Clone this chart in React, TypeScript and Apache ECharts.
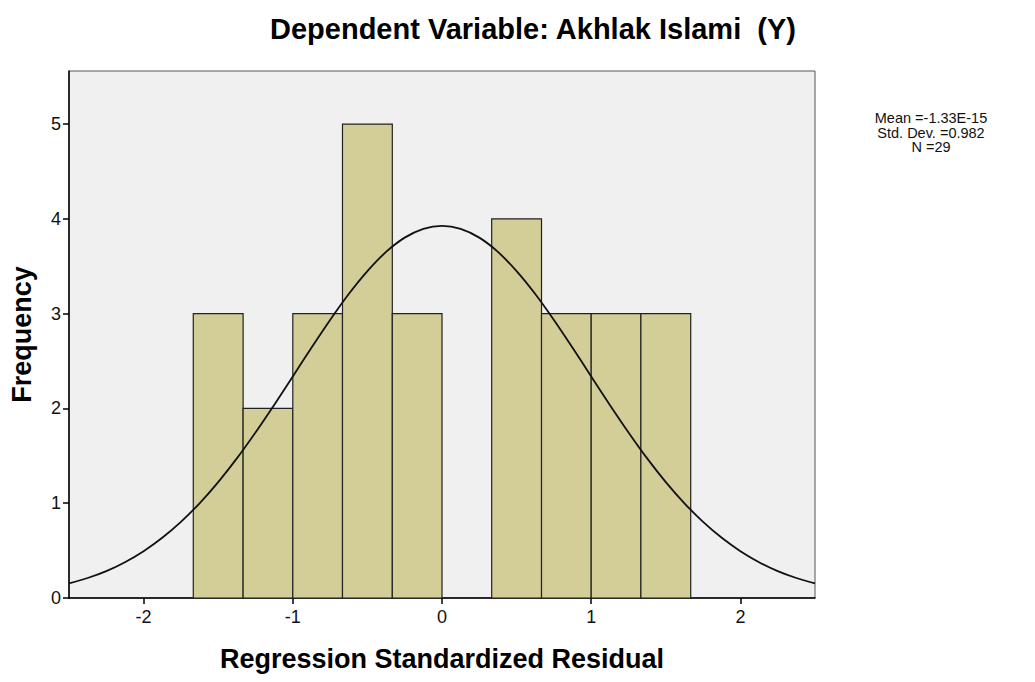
import React, { useEffect, useRef } from "react";
import * as echarts from "echarts";

// Histogram bins (bin edges) and frequencies
const binEdges = [-1.667, -1.333, -1.0, -0.667, -0.333, 0, 0.333, 0.667, 1.0, 1.333, 1.667];
const frequencies = [3, 2, 3, 5, 3, 0, 4, 3, 3, 3];

// Normal curve, points
const curveX = [
  -2.5, -2.375, -2.25, -2.125, -2.0, -1.875, -1.75, -1.625, -1.5, -1.375, -1.25, -1.125, -1.0,
  -0.875, -0.75, -0.625, -0.5, -0.375, -0.25, -0.125, 0, 0.125, 0.25, 0.375, 0.5, 0.625, 0.75,
  0.875, 1.0, 1.125, 1.25, 1.375, 1.5, 1.625, 1.75, 1.875, 2.0, 2.125, 2.25, 2.375, 2.5,
];
const curveY = [
  0.154, 0.211, 0.284, 0.378, 0.494, 0.635, 0.803, 0.999, 1.223, 1.473, 1.747, 2.037, 2.338,
  2.64, 2.933, 3.207, 3.449, 3.651, 3.802, 3.895, 3.927, 3.895, 3.802, 3.651, 3.449, 3.207, 2.933,
  2.64, 2.338, 2.037, 1.747, 1.473, 1.223, 0.999, 0.803, 0.635, 0.494, 0.378, 0.284, 0.211, 0.154,
];

const xTicks = [-2, -1, 0, 1, 2];
const yTicks = [0, 1, 2, 3, 4, 5];

const titleText = "Dependent Variable: Akhlak Islami  (Y)";
const xAxisTitle = "Regression Standardized Residual";
const yAxisTitle = "Frequency";
const statsLines = ["Mean =-1.33E-15", "Std. Dev. =0.982", "N =29"];

const FONT = "'Liberation Sans', Arial, Helvetica, sans-serif";

export default function App() {
  const ref = useRef<HTMLDivElement>(null);

  useEffect(() => {
    if (!ref.current) return;
    const chart = echarts.init(ref.current, undefined, { renderer: "svg" });

    const barData = frequencies.map((f, i) => [binEdges[i], binEdges[i + 1], f]);
    const curveData = curveX.map((x, i) => [x, curveY[i]]);

    const statsGraphics = statsLines.map((line, i) => ({
      type: "text",
      x: 931,
      y: 118 + i * 14.6,
      style: {
        text: line,
        font: `14.5px ${FONT}`,
        fill: "#111",
        align: "center",
        verticalAlign: "middle",
      },
    }));

    chart.setOption({
      animation: false,
      backgroundColor: "#ffffff",
      textStyle: { fontFamily: FONT },
      grid: {
        left: 69,
        top: 71,
        width: 746,
        height: 527,
        show: true,
        backgroundColor: "#f0f0f0",
        borderColor: "#555555",
        borderWidth: 1,
      },
      xAxis: {
        type: "value",
        min: -2.5,
        max: 2.5,
        splitNumber: 5,
        name: xAxisTitle,
        nameLocation: "middle",
        nameGap: 47,
        nameTextStyle: { fontSize: 27, fontWeight: "bold", color: "#000", fontFamily: FONT },
        axisLine: { show: true, onZero: false, lineStyle: { color: "#000", width: 1.5 } },
        axisTick: { show: true, inside: false, length: 6, customValues: xTicks, lineStyle: { color: "#000", width: 1.5 } },
        axisLabel: { show: true, customValues: xTicks, fontSize: 18, color: "#111", margin: 10, fontFamily: FONT },
        splitLine: { show: false },
      },
      yAxis: {
        type: "value",
        min: 0,
        max: 5.56,
        name: yAxisTitle,
        nameLocation: "middle",
        nameGap: 34,
        nameTextStyle: { fontSize: 27, fontWeight: "bold", color: "#000", fontFamily: FONT },
        axisLine: { show: true, onZero: false, lineStyle: { color: "#000", width: 1.5 } },
        axisTick: { show: true, inside: false, length: 6, customValues: yTicks, lineStyle: { color: "#000", width: 1.5 } },
        axisLabel: { show: true, customValues: yTicks, fontSize: 18, color: "#111", margin: 8, fontFamily: FONT },
        splitLine: { show: false },
      },
      graphic: [
        {
          type: "text",
          x: 533,
          y: 14,
          style: { text: titleText, font: `bold 29px ${FONT}`, fill: "#000", align: "center", verticalAlign: "top" },
        },
        ...statsGraphics,
      ],
      series: [
        {
          type: "custom",
          renderItem: (params: any, api: any) => {
            const x0 = api.value(0);
            const x1 = api.value(1);
            const f = api.value(2);
            if (!f) return null;
            const p0 = api.coord([x0, f]);
            const p1 = api.coord([x1, 0]);
            return {
              type: "rect",
              shape: { x: p0[0], y: p0[1], width: p1[0] - p0[0], height: p1[1] - p0[1] },
              style: { fill: "#d3ce97", stroke: "#222222", lineWidth: 1.2 },
            };
          },
          data: barData,
          encode: { x: [0, 1], y: 2 },
          z: 2,
        },
        {
          type: "line",
          data: curveData,
          smooth: 0.3,
          showSymbol: false,
          symbol: "none",
          lineStyle: { color: "#111", width: 1.8 },
          z: 3,
        },
      ],
    });

    return () => chart.dispose();
  }, []);

  return (
    <div
      ref={ref}
      style={{ position: "fixed", left: 0, top: 0, width: 1035, height: 682, background: "#fff" }}
    />
  );
}
